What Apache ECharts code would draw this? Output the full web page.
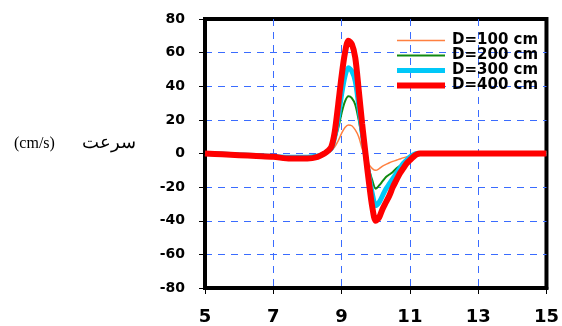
<!DOCTYPE html>
<html>
<head>
<meta charset="utf-8">
<script src="https://cdn.jsdelivr.net/npm/echarts@6/dist/echarts.min.js"></script>
<style>html,body{margin:0;padding:0;background:#fff;}#c{width:562px;height:326px;}</style>
</head>
<body>
<div id="c"></div>
<script>
var xs = [5,5.5,6,6.5,7,7.5,8,8.3,8.5,8.6,8.7,8.8,8.9,9.0,9.1,9.2,9.3,9.4,9.5,9.6,9.7,9.8,9.9,10.0,10.1,10.2,10.3,10.4,10.5,10.6,10.7,10.8,10.9,11.0,11.1,11.2,11.3,12,13,14,15];
var d100 = [0,-0.2,-0.5,-0.8,-1.2,-1.5,-1.5,-1,0,0.5,1.8,4,7.5,12,15.5,17,16.5,14,10,3,-3,-6.5,-9,-10,-9,-7.5,-6.5,-5.5,-4.7,-4,-3.3,-2.6,-2,-1.5,-0.7,0,0,0,0,0,0];
var d200 = [0,-0.3,-0.6,-1,-1.5,-2,-2,-1.2,0,1,3,8,15,24,31,34,33,29,20,9,-1,-9,-16,-21,-19,-16.5,-14,-12.5,-11,-9,-7.5,-6,-4,-2,-0.8,0,0,0,0,0,0];
var d300 = [0,-0.3,-0.8,-1.2,-1.8,-2.2,-2.2,-1.5,0,1.5,3,10,21,35,46,51,49,43,29,13,-1,-13,-24,-31,-29,-25,-21,-18,-15,-12,-9,-6,-4,-2,-0.8,0,0,0,0,0,0];
var d400 = [0,-0.5,-1,-1.5,-2,-3,-3,-2,0,1.5,4,13,29,46,60,67,65,57,38,18,0,-17,-32,-40,-38,-33,-29,-25,-20,-16,-12,-9,-6,-4,-2,-0.5,0,0,0,0,0];
var names = ['D=100 cm','D=200 cm','D=300 cm','D=400 cm'];
var yTitleUnit = '(cm/s)';
var yTitleWord = 'سرعت';

function pairs(ys){ return xs.map(function(x,i){ return [x, ys[i]]; }); }
function grid(){ return {show:true, showMinLine:false, showMaxLine:false, lineStyle:{color:'#3a6cff', type:[7,6], width:1}}; }

var chart = echarts.init(document.getElementById('c'), null, {renderer:'canvas'});
var tickFont = {fontFamily:'DejaVu Sans', fontWeight:'bold', color:'#000'};
chart.setOption({
  animation:false,
  backgroundColor:'#fff',
  grid:{left:205, right:14, top:19, bottom:38, show:true, borderColor:'#000', borderWidth:4, backgroundColor:'transparent'},
  legend:{
    orient:'vertical', left:394, top:33, itemWidth:48, itemHeight:15, itemGap:0, padding:0,
    data:names,
    itemStyle:{opacity:0},
    lineStyle:{width:'inherit'},
    textStyle:{fontFamily:'DejaVu Sans', fontWeight:'bold', fontSize:15, color:'#000', padding:[0,0,0,2]}
  },
  graphic:[
    {type:'text', left:14, top:136, style:{text:yTitleUnit, font:'16px "Liberation Serif", serif', fill:'#000'}},
    {type:'text', left:82, top:134, style:{text:yTitleWord, font:'18px "Liberation Serif", "DejaVu Serif", serif', fill:'#000'}}
  ],
  xAxis:{type:'value', min:5, max:15, interval:2,
    axisLine:{show:true, onZero:false, lineStyle:{color:'#000', width:4}},
    axisTick:{show:true, length:6, lineStyle:{color:'#000', width:1}},
    axisLabel:Object.assign({fontSize:18, margin:20}, tickFont),
    splitLine:grid()},
  yAxis:{type:'value', min:-80, max:80, interval:20,
    axisLine:{show:true, onZero:false, lineStyle:{color:'#000', width:4}},
    axisTick:{show:true, length:6, lineStyle:{color:'#000', width:1}},
    axisLabel:Object.assign({fontSize:14, margin:20}, tickFont),
    splitLine:grid()},
  series:[
    {name:names[0], type:'line', data:pairs(d100), symbol:'none', smooth:0.3, color:'#ff8040', lineStyle:{width:1.5}},
    {name:names[1], type:'line', data:pairs(d200), symbol:'none', smooth:0.3, color:'#108a10', lineStyle:{width:2}},
    {name:names[2], type:'line', data:pairs(d300), symbol:'none', smooth:0.3, color:'#00c8f8', lineStyle:{width:5}},
    {name:names[3], type:'line', data:pairs(d400), symbol:'none', smooth:0.3, color:'#ff0000', lineStyle:{width:6}}
  ]
});
</script>
</body>
</html>
